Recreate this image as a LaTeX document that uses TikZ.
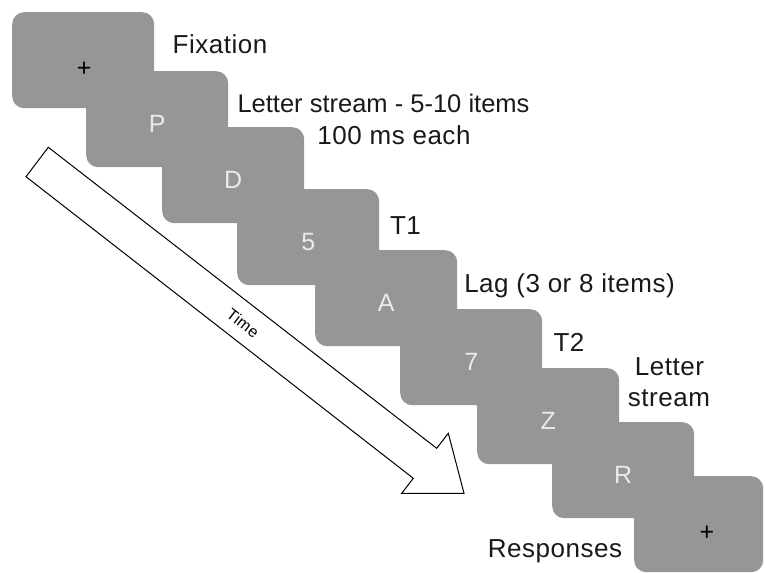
\documentclass[tikz,border=0pt]{standalone}
\usepackage{fontspec}
\setmainfont{Liberation Sans}
\newfontfamily\labelfont{Liberation Sans}[LetterSpace=2]
\usetikzlibrary{calc}
\definecolor{boxgray}{RGB}{150,150,150}
\definecolor{lettergray}{RGB}{234,234,234}
\definecolor{labelink}{RGB}{25,25,25}
\begin{document}
\begin{tikzpicture}[x=1pt,y=-1pt,
  slide/.style={fill=boxgray, rounded corners=12pt, inner sep=0pt, anchor=north west,
                minimum width=142pt, minimum height=96pt},
  stim/.style={anchor=base, text=lettergray, font=\fontsize{25}{28}\selectfont, inner sep=0pt},
  fixcross/.style={anchor=base, text=black, font=\fontsize{25}{28}\selectfont, inner sep=0pt},
  lbl/.style={anchor=base, text=labelink, font=\labelfont\fontsize{26}{29}\selectfont, inner sep=0pt},
  timearrow/.style={draw=black, fill=white, line width=1pt, line join=miter},
  timelbl/.style={text=black, font=\labelfont\fontsize{16}{18}\selectfont, inner sep=0pt, rotate=-37.8}]
\useasboundingbox (0,0) rectangle (766,573);

% slides
\node[slide] (b1) at (12,12) {};
\node[slide] (b2) at (86,71) {};
\node[slide] (b3) at (162,127) {};
\node[slide] (b4) at (237,189) {};
\node[slide] (b5) at (315,250) {};
\node[slide] (b6) at (400,309) {};
\node[slide] (b7) at (477,368) {};
\node[slide] (b8) at (552,422) {};
\node[slide, minimum width=129pt] (b9) at (634,476) {};

% stimuli
\node[fixcross] (s1) at ($(b1.center)+(1,16)$) {+};
\node[stim] (s2) at ($(b2.center)+(0,13)$) {P};
\node[stim] (s3) at ($(b3.center)+(0,13)$) {D};
\node[stim] (s4) at ($(b4.center)+(0,13)$) {5};
\node[stim] (s5) at ($(b5.center)+(0,13)$) {A};
\node[stim] (s6) at ($(b6.center)+(0,13)$) {7};
\node[stim] (s7) at ($(b7.center)+(0,13)$) {Z};
\node[stim] (s8) at ($(b8.center)+(0,13)$) {R};
\node[fixcross] (s9) at (707,540) {+};

% labels
\node[lbl] (l1) at (220,53) {Fixation};
\node[lbl, font=\fontsize{25.5}{29}\selectfont] (l2) at (383.5,112) {Letter stream - 5-10 items};
\node[lbl] (l3) at (394,144) {100 ms each};
\node[lbl] (l4) at (405.5,234) {T1};
\node[lbl] (l5) at (569.5,292) {Lag (3 or 8 items)};
\node[lbl] (l6) at (569,351) {T2};
\node[lbl] (l7) at (669.5,375) {Letter};
\node[lbl] (l8) at (669,406) {stream};
\node[lbl] (l9) at (555,557) {Responses};

% time arrow
\draw[timearrow] (48.3,147.3) -- (436.7,448.3) -- (448.3,433.3) -- (464,493.3)
  -- (401.7,493.3) -- (413.3,478.3) -- (26,176.7) -- cycle;
\node[timelbl] (tl) at (243,323) {Time};
\end{tikzpicture}
\end{document}
